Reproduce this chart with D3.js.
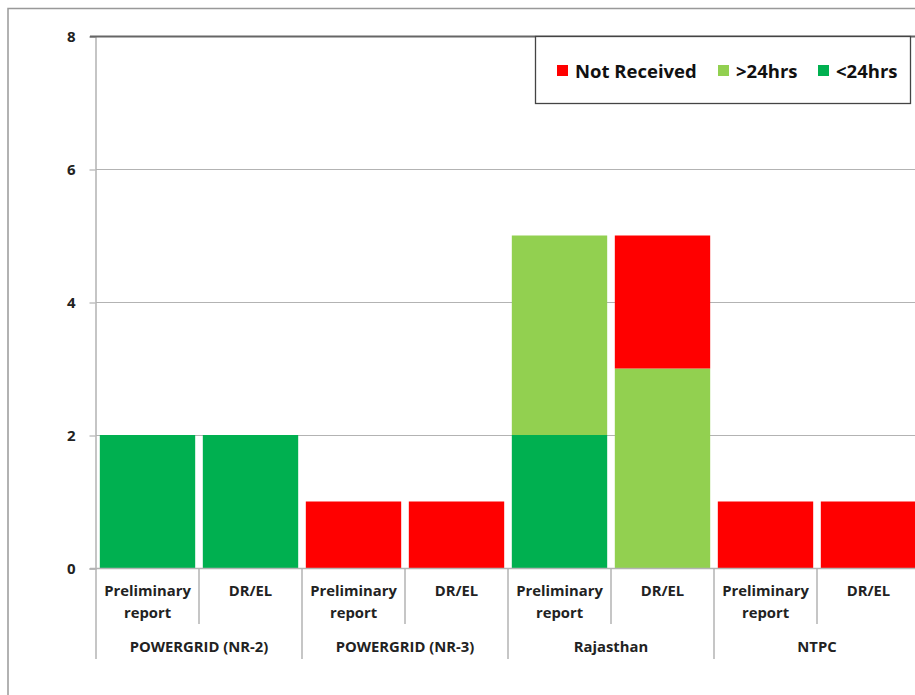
<!DOCTYPE html>
<html><head>
<meta charset="utf-8">
<script src="https://d3js.org/d3.v7.min.js"></script>
<style>
  body { margin: 0; background: #fff; }
  text { font-family: "Open Sans", "DejaVu Sans", sans-serif; font-weight: 700; fill: #222; }
</style>
</head>
<body>
<svg id="chart" width="915" height="695"></svg>
<script>
// data
let groups = ["POWERGRID (NR-2)", "POWERGRID (NR-3)", "Rajasthan", "NTPC"];
let reports = ["Preliminary report", "DR/EL"];
let seriesNames = ["<24hrs", ">24hrs", "Not Received"];
let under24 = [2, 2, 0, 0, 2, 0, 0, 0];
let over24 = [0, 0, 0, 0, 3, 3, 0, 0];
let notReceived = [0, 0, 1, 1, 0, 2, 1, 1];
let yTicks = [0, 2, 4, 6, 8];
let colors = ["#00B050", "#92D050", "#FF0000"];

let svg = d3.select("#chart");

// outer chart border (cropped on right and bottom)
svg.append("path").attr("d", "M8,695 L8,8.5 L915,8.5")
  .style("fill", "none").style("stroke", "#999").style("stroke-width", 1.5);

let plotLeft = 96, plotRight = 920, plotTop = 36, plotBottom = 568;

// build the rows: one per bar
let rows = [];
groups.forEach(function(g, gi) {
  reports.forEach(function(r, ri) {
    let i = gi * 2 + ri;
    rows.push({ key: i, group: g, report: r, "<24hrs": under24[i], ">24hrs": over24[i], "Not Received": notReceived[i] });
  });
});

let xScale = d3.scaleBand().domain(rows.map(d => d.key)).range([plotLeft, plotRight]).padding(0);
let yScale = d3.scaleLinear().domain([0, 8]).range([plotBottom, plotTop]);
let colorScale = d3.scaleOrdinal().domain(seriesNames).range(colors);

// gridlines
svg.append("g").selectAll("line").data(yTicks.filter(t => t > 0 && t < 8)).join("line")
  .attr("x1", plotLeft).attr("x2", 915)
  .attr("y1", d => yScale(d) + 0.5).attr("y2", d => yScale(d) + 0.5)
  .style("stroke", "#b3b3b3").style("stroke-width", 1.2);

// y axis
let yAxis = d3.axisLeft(yScale).tickValues(yTicks).tickSize(6).tickPadding(14);
let yg = svg.append("g").attr("transform", "translate(" + (plotLeft - 0.5) + ",0.5)").call(yAxis);
yg.select(".domain").style("stroke", "#b3b3b3").style("stroke-width", 1.5);
yg.selectAll(".tick line").style("stroke", "#b3b3b3").style("stroke-width", 1.2);
yg.selectAll(".tick text").style("font-size", "15px").style("font-family", "'Open Sans', sans-serif")
  .style("font-weight", 700).style("fill", "#222");

// top border line of plot area (at 8)
svg.append("line").attr("x1", plotLeft - 6).attr("x2", 915)
  .attr("y1", yScale(8) + 0.5).attr("y2", yScale(8) + 0.5)
  .style("stroke", "#666").style("stroke-width", 1.8);

// stacked bars
let stacked = d3.stack().keys(seriesNames)(rows);
let inset = xScale.bandwidth() * 0.037;
svg.append("g").selectAll("g").data(stacked).join("g")
  .style("fill", d => colorScale(d.key))
  .selectAll("rect").data(d => d.filter(s => s[1] > s[0])).join("rect")
  .attr("x", d => xScale(d.data.key) + inset)
  .attr("width", xScale.bandwidth() - 2 * inset)
  .attr("y", d => yScale(d[1]))
  .attr("height", d => yScale(d[0]) - yScale(d[1]));

// zero baseline
svg.append("line").attr("x1", plotLeft - 6).attr("x2", 915)
  .attr("y1", plotBottom + 0.5).attr("y2", plotBottom + 0.5)
  .style("stroke", "#b3b3b3").style("stroke-width", 1.5);

// category axis: dividers
let cat = svg.append("g");
rows.forEach(function(d, i) {
  let x0 = xScale(d.key);
  let isGroupEdge = (i % 2 === 0);
  cat.append("line").attr("x1", x0).attr("x2", x0)
    .attr("y1", plotBottom).attr("y2", isGroupEdge ? 659 : 624)
    .style("stroke", "#b3b3b3").style("stroke-width", 1.5);
  let cx = x0 + xScale.bandwidth() / 2;
  let words = d.report === "Preliminary report" ? ["Preliminary", "report"] : [d.report];
  words.forEach(function(w, wi) {
    cat.append("text").attr("x", cx).attr("y", 596 + wi * 22)
      .attr("text-anchor", "middle").style("font-size", "14.8px").text(w);
  });
});
groups.forEach(function(g, gi) {
  let x0 = xScale(gi * 2);
  let x1 = xScale(gi * 2 + 1) + xScale.bandwidth();
  cat.append("text").attr("x", (x0 + x1) / 2).attr("y", 652)
    .attr("text-anchor", "middle").style("font-size", "14.8px").text(g);
});

// legend
let legend = svg.append("g");
legend.append("rect").attr("x", 535.5).attr("y", 36.5).attr("width", 375).attr("height", 67)
  .style("fill", "#fff").style("stroke", "#444").style("stroke-width", 1.3);
let legendItems = [
  { name: "Not Received", x: 557 },
  { name: ">24hrs", x: 718 },
  { name: "<24hrs", x: 818 }
];
legendItems.forEach(function(d) {
  legend.append("rect").attr("x", d.x).attr("y", 65).attr("width", 11).attr("height", 11)
    .style("fill", colorScale(d.name));
  legend.append("text").attr("x", d.x + 18).attr("y", 77.5)
    .style("font-size", "18.5px").style("fill", "#111").text(d.name);
});
</script>
</body>
</html>
